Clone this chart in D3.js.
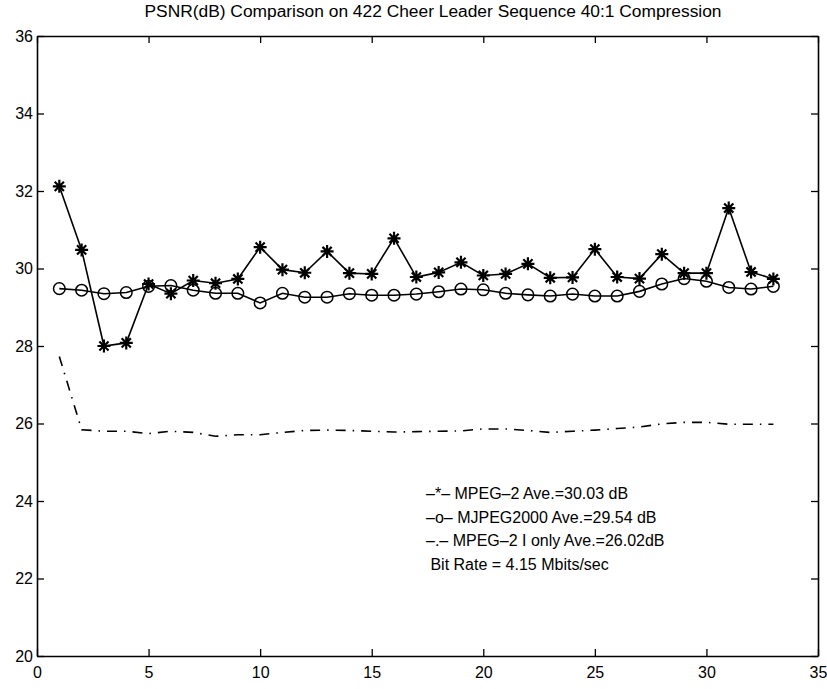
<!DOCTYPE html>
<html>
<head>
<meta charset="utf-8">
<script src="https://cdn.jsdelivr.net/npm/d3@7"></script>
<style>
  body { margin: 0; background: #fff; }
  svg { display: block; }
</style>
</head>
<body>
<div id="chart"></div>
<script>
// PSNR comparison, 422 Cheer Leader sequence

const frames = d3.range(1, 34);

const mpeg2 = [32.12, 30.48, 28.0, 28.08, 29.6, 29.35, 29.69, 29.62, 29.73, 30.55,
  29.97, 29.89, 30.44, 29.88, 29.86, 30.78, 29.78, 29.9, 30.16, 29.82,
  29.86, 30.12, 29.76, 29.77, 30.5, 29.78, 29.74, 30.37, 29.88, 29.88,
  31.56, 29.91, 29.73];

const mjpeg2000 = [29.48, 29.44, 29.35, 29.38, 29.54, 29.56, 29.44, 29.36, 29.36, 29.11,
  29.36, 29.26, 29.26, 29.35, 29.31, 29.31, 29.34, 29.4, 29.47, 29.45,
  29.36, 29.32, 29.29, 29.34, 29.29, 29.29, 29.41, 29.6, 29.74, 29.67,
  29.51, 29.47, 29.54];

const mpeg2Ionly = [27.73, 25.84, 25.8, 25.8, 25.74, 25.8, 25.77, 25.67, 25.71, 25.71,
  25.77, 25.82, 25.83, 25.82, 25.8, 25.78, 25.79, 25.8, 25.81, 25.86,
  25.86, 25.82, 25.77, 25.8, 25.83, 25.87, 25.91, 25.99, 26.03, 26.03,
  25.98, 25.98, 25.98];

const xTicks = [0, 5, 10, 15, 20, 25, 30, 35];
const yTicks = [20, 22, 24, 26, 28, 30, 32, 34, 36];

const legendLines = [
  '\u2013*\u2013 MPEG\u20132 Ave.=30.03 dB',
  '\u2013o\u2013 MJPEG2000 Ave.=29.54 dB',
  '\u2013.\u2013 MPEG\u20132 I only Ave.=26.02dB',
  ' Bit Rate = 4.15 Mbits/sec'
];

const title = 'PSNR(dB) Comparison on 422 Cheer Leader Sequence 40:1 Compression';

const W = 827, H = 689;
const margin = { top: 36, right: 9, bottom: 33, left: 37 };
const font = '"Liberation Sans", Arial, Helvetica, sans-serif';

const svg = d3.select('#chart').append('svg')
  .attr('width', W)
  .attr('height', H)
  .attr('viewBox', [0, 0, W, H]);

const x = d3.scaleLinear().domain([0, 35]).range([margin.left, W - margin.right]);
const y = d3.scaleLinear().domain([20, 36]).range([H - margin.bottom, margin.top]);

const tickLen = 7;

// axes (matlab style box, ticks pointing inward)
svg.append('g')
  .attr('transform', `translate(0,${y(20)})`)
  .call(d3.axisBottom(x).tickValues(xTicks).tickSizeInner(-tickLen).tickSizeOuter(0).tickPadding(11))
  .call(g => g.selectAll('text').attr('font-size', 16).attr('font-family', font).attr('fill', '#000'));

svg.append('g')
  .attr('transform', `translate(0,${y(36)})`)
  .call(d3.axisTop(x).tickValues(xTicks).tickSizeInner(-tickLen).tickSizeOuter(0).tickFormat(''));

svg.append('g')
  .attr('transform', `translate(${x(0)},0)`)
  .call(d3.axisLeft(y).tickValues(yTicks).tickSizeInner(-tickLen).tickSizeOuter(0).tickPadding(4))
  .call(g => g.selectAll('text').attr('font-size', 16).attr('font-family', font).attr('fill', '#000'));

svg.append('g')
  .attr('transform', `translate(${x(35)},0)`)
  .call(d3.axisRight(y).tickValues(yTicks).tickSizeInner(-tickLen).tickSizeOuter(0).tickFormat(''));

svg.selectAll('.domain').attr('stroke', '#000').attr('stroke-width', 1.6);
svg.selectAll('.tick line').attr('stroke', '#000').attr('stroke-width', 1.3);

// title
svg.append('text')
  .attr('x', 433)
  .attr('y', 17)
  .attr('text-anchor', 'middle')
  .attr('font-family', font)
  .attr('font-size', 16)
  .attr('textLength', 577)
  .attr('lengthAdjust', 'spacingAndGlyphs')
  .attr('fill', '#000')
  .text(title);

const line = d3.line().x((d, i) => x(frames[i])).y(d => y(d));

// MPEG-2 I only, dash-dot
svg.append('path')
  .datum(mpeg2Ionly)
  .attr('d', line)
  .attr('fill', 'none')
  .attr('stroke', '#000')
  .attr('stroke-width', 1.6)
  .attr('stroke-dasharray', '10,7,1.5,7');

// MJPEG2000, circles
svg.append('path')
  .datum(mjpeg2000)
  .attr('d', line)
  .attr('fill', 'none')
  .attr('stroke', '#000')
  .attr('stroke-width', 1.6);

svg.append('g').selectAll('circle')
  .data(mjpeg2000)
  .join('circle')
  .attr('cx', (d, i) => x(frames[i]))
  .attr('cy', d => y(d))
  .attr('r', 5.8)
  .attr('fill', 'none')
  .attr('stroke', '#000')
  .attr('stroke-width', 1.5);

// MPEG-2, stars
svg.append('path')
  .datum(mpeg2)
  .attr('d', line)
  .attr('fill', 'none')
  .attr('stroke', '#000')
  .attr('stroke-width', 1.6);

const starPath = (() => {
  const r = 6.5, s = r * Math.SQRT1_2;
  return `M${-r},0L${r},0M0,${-r}L0,${r}M${-s},${-s}L${s},${s}M${-s},${s}L${s},${-s}`;
})();

svg.append('g').selectAll('path')
  .data(mpeg2)
  .join('path')
  .attr('transform', (d, i) => `translate(${x(frames[i])},${y(d)})`)
  .attr('d', starPath)
  .attr('stroke', '#000')
  .attr('stroke-width', 2.2);

// legend text
svg.append('g').selectAll('text')
  .data(legendLines)
  .join('text')
  .attr('x', 426)
  .attr('y', (d, i) => 499 + i * 23.5)
  .attr('font-family', font)
  .attr('font-size', 16)
  .attr('fill', '#000')
  .attr('xml:space', 'preserve')
  .style('white-space', 'pre')
  .text(d => d);
</script>
</body>
</html>
